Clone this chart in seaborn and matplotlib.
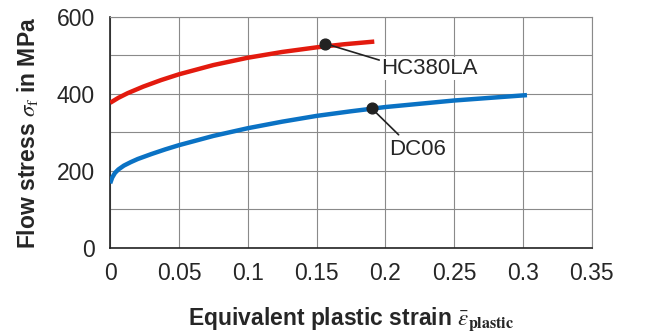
import matplotlib
matplotlib.use("Agg")
import matplotlib.pyplot as plt
import seaborn as sns
import pandas as pd

# Data
hc_strain = [0, 0.006, 0.0127, 0.024, 0.037, 0.05, 0.075, 0.1, 0.125, 0.15, 0.17, 0.192]
hc_stress = [377, 390, 402, 419, 436, 451, 475, 494, 509, 521, 529, 536]
dc_strain = [0, 0.0015, 0.0035, 0.006, 0.01, 0.015, 0.02, 0.03, 0.04, 0.05, 0.075,
             0.1, 0.125, 0.15, 0.175, 0.2, 0.25, 0.303]
dc_stress = [168, 183, 195, 204, 214, 223, 231, 244, 256, 267, 291,
             311, 328, 343, 355, 366, 383, 397]
labels = ["HC380LA", "DC06"]
marker_x = [0.156, 0.190]
marker_y = [531, 363]
text_x = [0.197, 0.203]
text_y = [466, 255]
leader_end_x = [0.1956, 0.2097]
leader_end_y = [488, 294]
x_ticks = [0, 0.05, 0.1, 0.15, 0.2, 0.25, 0.3, 0.35]
x_ticklabels = ["0", "0.05", "0.1", "0.15", "0.2", "0.25", "0.3", "0.35"]
y_ticks = [0, 200, 400, 600]
y_minor = [100, 300, 500]
colors = ["#e31a0e", "#0a72c4"]

sns.set_style("white")
plt.rcParams["font.family"] = ["Liberation Sans", "DejaVu Sans"]
plt.rcParams["mathtext.fontset"] = "stix"

df = pd.concat([
    pd.DataFrame({"strain": hc_strain, "stress": hc_stress, "mat": labels[0]}),
    pd.DataFrame({"strain": dc_strain, "stress": dc_stress, "mat": labels[1]}),
])

fig = plt.figure(figsize=(6.48, 3.32), dpi=100)
ax = fig.add_axes([0.170, 0.253, 0.743, 0.696])
sns.lineplot(data=df, x="strain", y="stress", hue="mat", palette=colors,
             linewidth=3.2, legend=False, ax=ax, sort=False, zorder=3)
for ln in ax.get_lines():
    ln.set_solid_joinstyle("round")
    ln.set_solid_capstyle("butt")

ax.set_xlim(0, 0.35)
ax.set_ylim(0, 600)
ax.set_xticks(x_ticks)
ax.set_xticklabels(x_ticklabels)
ax.set_yticks(y_ticks)
ax.set_yticks(y_minor, minor=True)
ax.grid(True, which="both", color="#8a8a8a", linewidth=0.8, zorder=0)
ax.set_axisbelow(True)
ax.tick_params(axis="both", which="both", length=0, labelsize=16.5)
ax.tick_params(axis="y", pad=11)
ax.tick_params(axis="x", pad=10)

for s in ["top", "right"]:
    ax.spines[s].set_color("#8a8a8a")
    ax.spines[s].set_linewidth(0.8)
for s in ["left", "bottom"]:
    ax.spines[s].set_color("#222222")
    ax.spines[s].set_linewidth(1.2)

for mx, my, lab, tx, ty, lx, ly in zip(marker_x, marker_y, labels, text_x,
                                        text_y, leader_end_x, leader_end_y):
    ax.plot([mx, lx], [my, ly], color="#222222", linewidth=1.2, zorder=4)
    ax.scatter([mx], [my], s=60, color="#222222", zorder=5)
    ax.text(tx, ty, lab, fontsize=16, ha="left", va="center", zorder=6,
            bbox=dict(facecolor="white", edgecolor="none", pad=0.5))

ax.set_xlabel(r"Equivalent plastic strain $\bar{\varepsilon}_{\mathbf{plastic}}$",
              fontsize=16.5, fontweight="bold", labelpad=15)
ax.set_ylabel(r"Flow stress $\sigma_{\mathrm{f}}$ in MPa", fontsize=16.5,
              fontweight="bold", labelpad=12)

fig.savefig("out.png", dpi=100)
